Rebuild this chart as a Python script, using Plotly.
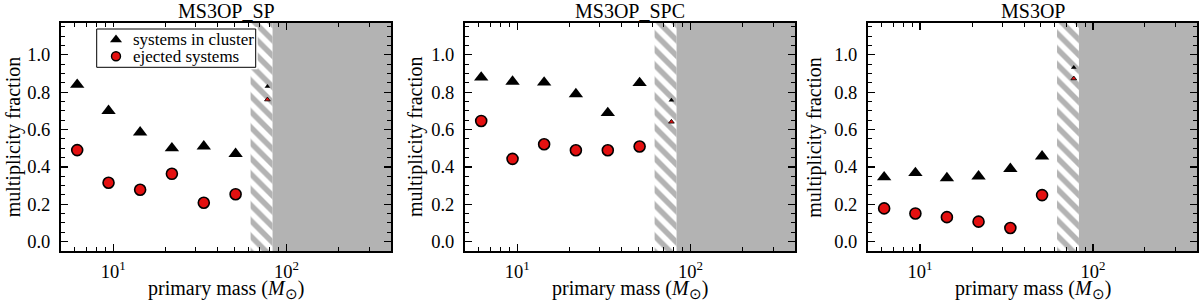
import numpy as np
import plotly.graph_objects as go

# ---- data ----
panel_titles = ["MS3OP_SP", "MS3OP_SPC", "MS3OP"]
mass_bins = [6.2, 9.4, 14.3, 21.8, 33.3, 50.8, 77.5]

cluster_sp = [0.84, 0.70, 0.585, 0.50, 0.51, 0.47, 0.83]
ejected_sp = [0.49, 0.315, 0.278, 0.363, 0.208, 0.254, 0.76]

cluster_spc = [0.879, 0.857, 0.852, 0.79, 0.689, 0.849, 0.756]
ejected_spc = [0.646, 0.443, 0.521, 0.489, 0.489, 0.509, 0.641]

cluster_op = [0.345, 0.368, 0.34, 0.35, 0.39, 0.457, 0.932]
ejected_op = [0.178, 0.151, 0.131, 0.107, 0.073, 0.249, 0.873]

cluster_sets = [cluster_sp, cluster_spc, cluster_op]
ejected_sets = [ejected_sp, ejected_spc, ejected_op]
series_names = ["systems in cluster", "ejected systems"]

hatch_range = [62, 83]
excluded_range = [83, 400]
x_range = [5, 400]
y_range = [-0.05, 1.17]
y_ticks = [0.0, 0.2, 0.4, 0.6, 0.8, 1.0]
x_major = [10, 100]
x_major_text = ["10<sup>1</sup>", "10<sup>2</sup>"]
x_minor = [6, 7, 8, 9, 20, 30, 40, 50, 60, 70, 80, 90, 200, 300, 400]

FONT = "Liberation Serif"
GREY = "#b3b3b3"
RED = "#e41010"
W, H = 1200, 303

# layout in pixels
x_domains_px = [[61, 391], [465, 795], [868, 1197]]
y_domain_px = [23, 251]          # top, bottom (from top of figure)
ytitle_x_px = [13.3, 415, 813.7]

def px_x(p):
    return p / W

def px_y(p):
    return 1 - p / H

y_domain = [px_y(y_domain_px[1]), px_y(y_domain_px[0])]

fig = go.Figure()

for i in range(3):
    xa = "x" if i == 0 else f"x{i+1}"
    ya = "y" if i == 0 else f"y{i+1}"
    ylo, yhi = -0.5, 1.6
    # hatched region
    fig.add_trace(go.Scatter(
        x=[hatch_range[0], hatch_range[1], hatch_range[1], hatch_range[0], hatch_range[0]],
        y=[ylo, ylo, yhi, yhi, ylo], xaxis=xa, yaxis=ya, mode="none",
        fill="toself", fillcolor=GREY,
        fillpattern=dict(shape="\\", bgcolor=GREY, fgcolor="white", size=11, solidity=0.5),
        showlegend=False, hoverinfo="skip"))
    # solid excluded region
    fig.add_trace(go.Scatter(
        x=[excluded_range[0], excluded_range[1] * 2, excluded_range[1] * 2, excluded_range[0], excluded_range[0]],
        y=[ylo, ylo, yhi, yhi, ylo], xaxis=xa, yaxis=ya, mode="none",
        fill="toself", fillcolor=GREY, showlegend=False, hoverinfo="skip"))
    # data
    fig.add_trace(go.Scatter(
        x=mass_bins[:6], y=cluster_sets[i][:6], xaxis=xa, yaxis=ya, mode="markers",
        marker=dict(symbol="triangle-up", size=12.5, color="black", line=dict(width=0)),
        name=series_names[0], showlegend=False))
    fig.add_trace(go.Scatter(
        x=mass_bins[:6], y=ejected_sets[i][:6], xaxis=xa, yaxis=ya, mode="markers",
        marker=dict(symbol="circle", size=11, color=RED, line=dict(width=1.6, color="black")),
        name=series_names[1], showlegend=False))
    # partially hidden last bin
    fig.add_trace(go.Scatter(
        x=mass_bins[6:], y=cluster_sets[i][6:], xaxis=xa, yaxis=ya, mode="markers",
        marker=dict(symbol="triangle-up", size=5, color="black"),
        showlegend=False, hoverinfo="skip"))
    fig.add_trace(go.Scatter(
        x=mass_bins[6:], y=ejected_sets[i][6:], xaxis=xa, yaxis=ya, mode="markers",
        marker=dict(symbol="triangle-up", size=5, color=RED, line=dict(width=0.8, color="black")),
        showlegend=False, hoverinfo="skip"))

    axis_common = dict(showline=True, linewidth=2, linecolor="black", mirror="ticks",
                       ticks="inside", tickwidth=1.2, tickcolor="black", ticklen=7,
                       showgrid=False, zeroline=False, automargin=False,
                       tickfont=dict(family=FONT, size=18.5, color="black"))
    fig.update_layout(**{
        ("xaxis" if i == 0 else f"xaxis{i+1}"): dict(
            type="log", range=[np.log10(x_range[0]), np.log10(x_range[1])],
            domain=[px_x(v) for v in x_domains_px[i]], anchor=ya,
            tickvals=x_major, ticktext=x_major_text, ticklabelstandoff=3,
            minor=dict(tickvals=x_minor, ticks="inside", ticklen=4, tickwidth=1, tickcolor="black"),
            **axis_common),
        ("yaxis" if i == 0 else f"yaxis{i+1}"): dict(
            range=y_range, domain=y_domain, anchor=xa, tickvals=y_ticks, tickformat=".1f",
            minor=dict(dtick=0.05, tick0=0, ticks="inside", ticklen=4, tickwidth=1, tickcolor="black"),
            ticklabelstandoff=5,
            **axis_common),
    })

    xc = px_x((x_domains_px[i][0] + x_domains_px[i][1]) / 2)
    fig.add_annotation(text=panel_titles[i], x=xc, y=px_y(11), xref="paper", yref="paper",
                       showarrow=False, xanchor="center", yanchor="middle",
                       font=dict(family=FONT, size=20, color="black"))
    fig.add_annotation(text="primary mass (<i>M</i><sub><span style='font-size:15px'>⊙</span></sub>)",
                       x=xc, y=px_y(303), xref="paper", yref="paper", showarrow=False,
                       xanchor="center", yanchor="bottom", borderpad=0,
                       font=dict(family=FONT, size=20, color="black"))
    fig.add_annotation(text="multiplicity fraction", x=px_x(ytitle_x_px[i]),
                       y=(y_domain[0] + y_domain[1]) / 2, xref="paper", yref="paper",
                       showarrow=False, textangle=-90, xanchor="center", yanchor="middle",
                       font=dict(family=FONT, size=20, color="black"))

# ---- legend, drawn in its own small pixel-unit subplot on top of panel 1 ----
leg_box = [96.7, 29, 255.7, 67.3]    # left, top, right, bottom (px)
leg_w = leg_box[2] - leg_box[0]
leg_h = leg_box[3] - leg_box[1]
pad = 2
leg_rows_px = [10.7, 27.3]           # row centres, px from box top
leg_marker_x = 19.3                  # px from box left
leg_text_x = 34                      # px from box left

fig.add_trace(go.Scatter(
    x=[0, leg_w, leg_w, 0, 0], y=[0, 0, leg_h, leg_h, 0], xaxis="x4", yaxis="y4",
    mode="lines", fill="toself", fillcolor="white", line=dict(color="black", width=1),
    showlegend=False, hoverinfo="skip"))
fig.add_trace(go.Scatter(
    x=[leg_marker_x], y=[leg_rows_px[0]], xaxis="x4", yaxis="y4", mode="markers",
    marker=dict(symbol="triangle-up", size=10.5, color="black"), showlegend=False, hoverinfo="skip"))
fig.add_trace(go.Scatter(
    x=[leg_marker_x], y=[leg_rows_px[1]], xaxis="x4", yaxis="y4", mode="markers",
    marker=dict(symbol="circle", size=9, color=RED, line=dict(width=1.4, color="black")),
    showlegend=False, hoverinfo="skip"))
fig.update_layout(
    xaxis4=dict(domain=[px_x(leg_box[0] - pad), px_x(leg_box[2] + pad)], range=[-pad, leg_w + pad],
                visible=False, anchor="y4", fixedrange=True),
    yaxis4=dict(domain=[px_y(leg_box[3] + pad), px_y(leg_box[1] - pad)], range=[leg_h + pad, -pad],
                visible=False, anchor="x4", fixedrange=True),
)
for r, name in zip(leg_rows_px, series_names):
    fig.add_annotation(text=name, x=px_x(leg_box[0] + leg_text_x), y=px_y(leg_box[1] + r),
                       xref="paper", yref="paper", showarrow=False, xanchor="left",
                       yanchor="middle", font=dict(family=FONT, size=17, color="black"))

fig.update_layout(
    template="none",
    width=W, height=H, margin=dict(l=0, r=0, t=0, b=0, autoexpand=False),
    paper_bgcolor="white", plot_bgcolor="white",
    font=dict(family=FONT, size=17, color="black"),
    showlegend=False, hovermode=False,
)

fig.write_html("out.html", config={"displayModeBar": False, "staticPlot": True})

# remove the default page margin so the figure sits at the window origin
with open("out.html", "r", encoding="utf-8") as f:
    html = f.read()
html = html.replace("<head>", "<head><style>html,body{margin:0;padding:0;overflow:hidden;}</style>", 1)
with open("out.html", "w", encoding="utf-8") as f:
    f.write(html)
